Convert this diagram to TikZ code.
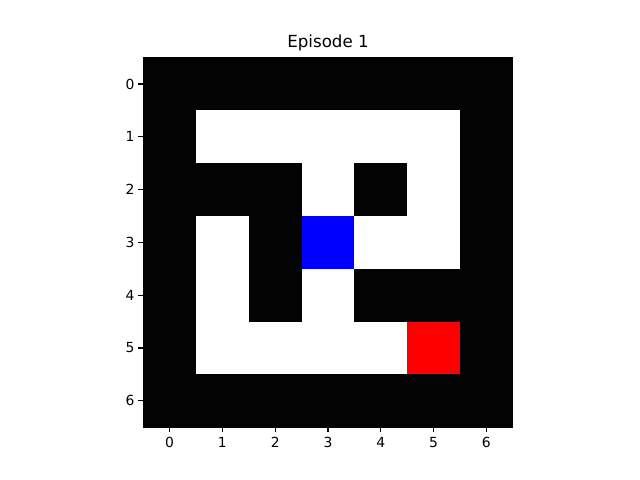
\documentclass[tikz,border=0pt]{standalone}
\usepackage{fontspec}
\setmainfont{DejaVu Sans}
\usetikzlibrary{positioning}
\definecolor{wallc}{RGB}{3,3,3}
\tikzset{cell/.style={draw=none},
  tick/.style={line width=0.8pt, black},
  lbl/.style={font=\fontsize{10}{12}\selectfont, inner sep=0pt}}

\begin{document}
\begin{tikzpicture}[x=0.72pt, y=-0.72pt]
  \useasboundingbox (0,0) rectangle (640,480);
  % maze image, 7x7 cells of 52.8px
  \def\ox{143.2}\def\oy{57.6}\def\cs{52.8}
  \fill[wallc] (\ox,\oy) rectangle ++(7*\cs,7*\cs);
  \foreach \r/\c in {1/1,1/2,1/3,1/4,1/5,2/3,2/5,3/1,3/4,3/5,4/1,4/3,5/1,5/2,5/3,5/4}
    \fill[white] ({\ox+\c*\cs},{\oy+\r*\cs}) rectangle ++(\cs,\cs);
  \fill[blue] ({\ox+3*\cs},{\oy+3*\cs}) rectangle ++(\cs,\cs);
  \fill[red] ({\ox+5*\cs},{\oy+5*\cs}) rectangle ++(\cs,\cs);
  \draw[line width=0.8pt] (\ox,\oy) rectangle ++(7*\cs,7*\cs);
  % ticks and labels
  \foreach \i in {0,...,6}{
    \draw[tick] ({\ox},{\oy+(\i+0.5)*\cs}) -- ++(-4.86,0);
    \node[lbl, anchor=east] (yl\i) at ({\ox-8.5},{\oy+(\i+0.5)*\cs}) {\i};
    \draw[tick] ({\ox+(\i+0.5)*\cs},{\oy+7*\cs}) -- ++(0,4.86);
    \node[lbl, anchor=north] (xl\i) at ({\ox+(\i+0.5)*\cs},{\oy+7*\cs+9.7}) {\i};
  }
  \node[font=\fontsize{12}{14}\selectfont, inner sep=0pt, anchor=south] (title) at (328,51) {Episode 1};
\end{tikzpicture}
\end{document}
